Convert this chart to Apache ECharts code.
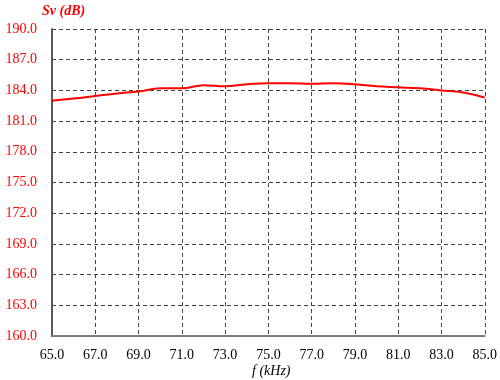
<!DOCTYPE html>
<html>
<head>
<meta charset="utf-8">
<script src="https://cdn.jsdelivr.net/npm/echarts@6/dist/echarts.min.js"></script>
<style>html,body{margin:0;padding:0;background:#fff}#c{width:500px;height:380px}</style>
</head>
<body>
<div id="c"></div>
<script>
var freqs = [65,66,67,68,69,70,71,72,73,74,75,76,77,78,79,80,81,82,83,84,85];
var sv = [183.0,183.2,183.45,183.7,183.9,184.2,184.2,184.5,184.4,184.6,184.7,184.7,184.65,184.7,184.6,184.4,184.3,184.2,184.0,183.8,183.3];
var xMin = 65, xMax = 85, xStep = 2;
var yMin = 160, yMax = 190, yStep = 3;

var serif = "'Liberation Serif','Times New Roman',serif";
var chart = echarts.init(document.getElementById('c'));
var data = freqs.map(function (f, i) { return [f - xMin, sv[i] - yMin]; });
var gridDash = { color: '#444', type: [4, 3], width: 1 };
chart.setOption({
  animation: false,
  grid: { left: 52, right: 14, top: 29, bottom: 44 },
  xAxis: [{
    type: 'value', min: 0, max: xMax - xMin, interval: xStep,
    axisLine: { show: true, onZero: false, lineStyle: { color: '#444', width: 1.5 } },
    axisTick: { show: false },
    splitLine: { show: true, lineStyle: gridDash },
    axisLabel: { color: '#000', fontFamily: serif, fontSize: 14, margin: 12,
      formatter: function (v) { return (v + xMin).toFixed(1); } }
  }, {
    type: 'value', position: 'top', min: 0, max: xMax - xMin,
    axisLine: { show: true, lineStyle: { color: '#888', width: 1.5 } },
    axisTick: { show: false }, axisLabel: { show: false }, splitLine: { show: false }
  }],
  yAxis: [{
    type: 'value', min: 0, max: yMax - yMin, interval: yStep,
    axisLine: { show: true, onZero: false, lineStyle: { color: '#444', width: 1.5 } },
    axisTick: { show: false },
    splitLine: { show: true, lineStyle: gridDash },
    axisLabel: { color: '#ff0000', fontFamily: serif, fontSize: 14, margin: 15,
      formatter: function (v) { return (v + yMin).toFixed(1); } }
  }, {
    type: 'value', position: 'right', min: 0, max: yMax - yMin,
    axisLine: { show: true, lineStyle: { color: '#555', width: 1.5 } },
    axisTick: { show: false }, axisLabel: { show: false }, splitLine: { show: false }
  }],
  graphic: [
    { type: 'text', left: 42, top: 4, style: { text: 'Sv (dB)', fill: '#ff0000',
      font: 'italic bold 14px ' + serif } },
    { type: 'text', left: 252, top: 364, style: { text: 'f (kHz)', fill: '#000',
      font: 'italic 14px ' + serif } }
  ],
  series: [{
    type: 'line', data: data, smooth: 0.4, showSymbol: false,
    lineStyle: { color: '#ff0000', width: 2 }, z: 5
  }]
});
</script>
</body>
</html>
